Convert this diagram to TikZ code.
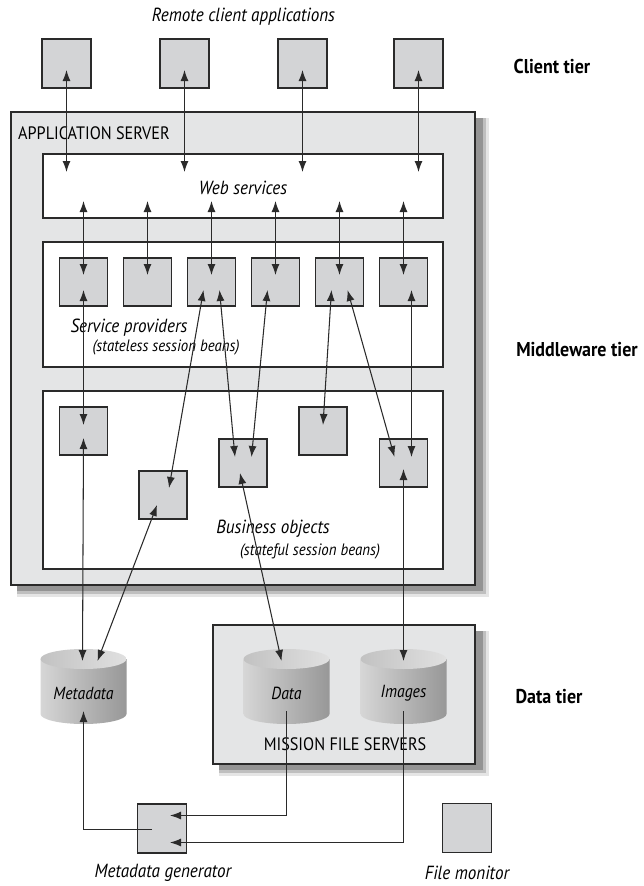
\documentclass[tikz,border=0pt]{standalone}
\usepackage{fontspec}
\setmainfont{PT Sans}[FakeStretch=0.9]
\usetikzlibrary{arrows.meta,calc}
\definecolor{srvfill}{HTML}{E4E5E6}
\definecolor{boxfill}{HTML}{D3D4D6}
\definecolor{edge}{HTML}{2A2A2A}
\pgfdeclarehorizontalshading{cylbody}{100bp}{color(0bp)=(gray!82); color(18bp)=(gray!25); color(55bp)=(gray!62); color(100bp)=(gray!105)}
\newcommand{\mkcyl}[3]{%
  \shade[shading=cylbody] (#2-43,659) -- (#2-43,714) arc[start angle=180,end angle=360,x radius=43pt,y radius=10pt] -- (#2+43,659) -- cycle;
  \shade[left color=gray!48, right color=gray!24] (#2,659) ellipse[x radius=43pt, y radius=10pt];
  \node[minimum width=86pt, minimum height=75pt, inner sep=0pt] (#1) at (#2,686.5) {};
  \node[cyllbl] (#1txt) at (#2,693) {#3};
}
\newcommand{\mkshadow}[4]{%
  \fill[black!10] (#1+6,#2+6) rectangle (#3+14,#4+12);
  \fill[black!25] (#1+6,#2+6) rectangle (#3+11,#4+9);
  \fill[black!42] (#1+6,#2+6) rectangle (#3+8,#4+6);
}
\begin{document}
\begin{tikzpicture}[x=1pt,y=-1pt,
  sbox/.style={draw=edge, fill=boxfill, line width=1.3pt, minimum width=48pt, minimum height=48pt, inner sep=0pt, outer sep=0pt},
  panel/.style={draw=edge, fill=white, line width=1.3pt, inner sep=0pt, outer sep=0pt, anchor=north west},
  server/.style={draw=edge, fill=srvfill, line width=1.4pt, inner sep=0pt, outer sep=0pt, anchor=north west},
  conn/.style={line width=1.05pt, draw=edge, -{Latex[length=11pt,width=8pt]}},
  dconn/.style={line width=1.05pt, draw=edge, {Latex[length=11pt,width=8pt]}-{Latex[length=11pt,width=8pt]}},
  lbl/.style={inner sep=0pt, font=\fontsize{19}{21}\selectfont\itshape},
  cyllbl/.style={inner sep=0pt, font=\fontsize{17.5}{20}\selectfont\itshape},
  small/.style={inner sep=0pt, font=\fontsize{16.5}{19}\selectfont\itshape},
  caps/.style={inner sep=0pt, font=\fontsize{18}{20}\selectfont},
  tier/.style={inner sep=0pt, font=\fontsize{20}{22}\selectfont\bfseries}
]
\useasboundingbox (0,0) rectangle (643,886);
\fill[white] (0,0) rectangle (643,886);

% ---------- client tier
\node[lbl] (rca) at (243.5,17) {Remote client applications};
\node[sbox, minimum width=49pt, minimum height=49pt] (c1) at (66.5,63.5) {};
\node[sbox, minimum width=49pt, minimum height=49pt] (c2) at (184.5,63.5) {};
\node[sbox, minimum width=49pt, minimum height=49pt] (c3) at (302.5,63.5) {};
\node[sbox, minimum width=49pt, minimum height=49pt] (c4) at (418.5,63.5) {};
\node[tier] (ct) at (552,66) {Client tier};

% ---------- application server
\mkshadow{11}{112}{475}{585}
\node[server, minimum width=464pt, minimum height=473pt] (app) at (11,112) {};
\node[caps, anchor=west] (asl) at (18,133) {APPLICATION SERVER};

\node[panel, minimum width=400pt, minimum height=64pt] (web) at (43,154) {};
\node[lbl] (wst) at (243,188) {Web services};

\node[panel, minimum width=400pt, minimum height=125pt] (sp) at (43,242) {};
\node[sbox] (s1) at (83.5,282) {};
\node[sbox] (s2) at (147.5,282) {};
\node[sbox] (s3) at (211.5,282) {};
\node[sbox] (s4) at (275.5,282) {};
\node[sbox] (s5) at (339.5,282) {};
\node[sbox] (s6) at (403.5,282) {};
\node[lbl] (spt) at (129,328) {Service providers};
\node[small] (spt2) at (166,347) {(stateless session beans)};

\node[panel, minimum width=400pt, minimum height=178pt] (bo) at (43,391) {};
\node[sbox] (bA) at (83.5,431) {};
\node[sbox] (bB) at (163,495) {};
\node[sbox] (bC) at (243,463) {};
\node[sbox] (bD) at (323,431) {};
\node[sbox] (bE) at (403.5,463) {};
\node[lbl] (bot) at (273,529) {Business objects};
\node[small] (bot2) at (310,551) {(stateful session beans)};

\node[tier] (mt) at (577,350) {Middleware tier};

% ---------- data tier
\mkshadow{213}{625}{475}{764}
\node[server, minimum width=262pt, minimum height=139pt] (mfs) at (213,625) {};
\node[caps] (mfst) at (345,744) {MISSION FILE SERVERS};

\mkcyl{meta}{83.5}{Metadata}
\mkcyl{data}{286.5}{Data}
\mkcyl{imgs}{403.5}{Images}
\node[tier] (dt) at (549,697) {Data tier};

\node[sbox, minimum width=49pt, minimum height=49pt] (mg) at (162,828.5) {};
\node[sbox, minimum width=49pt, minimum height=49pt] (fm) at (467,828) {};
\node[lbl] (mgt) at (163,873) {Metadata generator};
\node[lbl] (fmt) at (467,873) {File monitor};

% ---------- connectors: clients <-> web services
\foreach \c in {c1,c2,c3,c4}{
  \draw[dconn] ($(\c |- web.north)+(0,18)$) -- ($(\c.center)+(0,6.5)$);
}
% web services <-> service providers
\foreach \s in {s1,s2,s3,s4,s5,s6}{
  \draw[dconn] ($(\s |- web.south)+(0,-17)$) -- ($(\s.center)+(0,-7)$);
}
% service providers <-> business objects
\draw[dconn] ($(s1.center)+(0,8)$) -- ($(bA.center)+(0,-6)$);
\draw[dconn] ($(s3.center)+(-8,8)$) -- ($(bB.center)+(6,-7)$);
\draw[dconn] ($(s3.center)+(8,8)$) -- ($(bC.center)+(-8,-6)$);
\draw[dconn] ($(s4.center)+(-8,8)$) -- ($(bC.center)+(8.5,-6)$);
\draw[dconn] ($(s5.center)+(-8,8)$) -- ($(bD.center)+(0,-6)$);
\draw[dconn] ($(s5.center)+(8,8)$) -- ($(bE.center)+(-9,-6)$);
\draw[dconn] ($(s6.center)+(8,8)$) -- ($(bE.center)+(8,-6)$);
% business objects <-> data stores
\draw[dconn] ($(bA.center)+(0,7)$) -- ($(meta.center)+(-1,-25.5)$);
\draw[dconn] ($(bB.center)+(-6,10)$) -- ($(meta.center)+(14,-25.5)$);
\draw[dconn] ($(bC.center)+(-3,10)$) -- ($(data.center)+(-5,-25.5)$);
\draw[dconn] ($(bE.center)+(0,6)$) -- ($(imgs.center)+(0,-25.5)$);
% metadata generator
\draw[conn] ($(data.center)+(0,24.5)$) |- ($(mg.center)+(8,-13)$);
\draw[conn] ($(imgs.center)+(0,24.5)$) |- ($(mg.center)+(8,14)$);
\draw[conn] ($(mg.center)+(-10,1)$) -| ($(meta.center)+(0,24.5)$);
\end{tikzpicture}
\end{document}
